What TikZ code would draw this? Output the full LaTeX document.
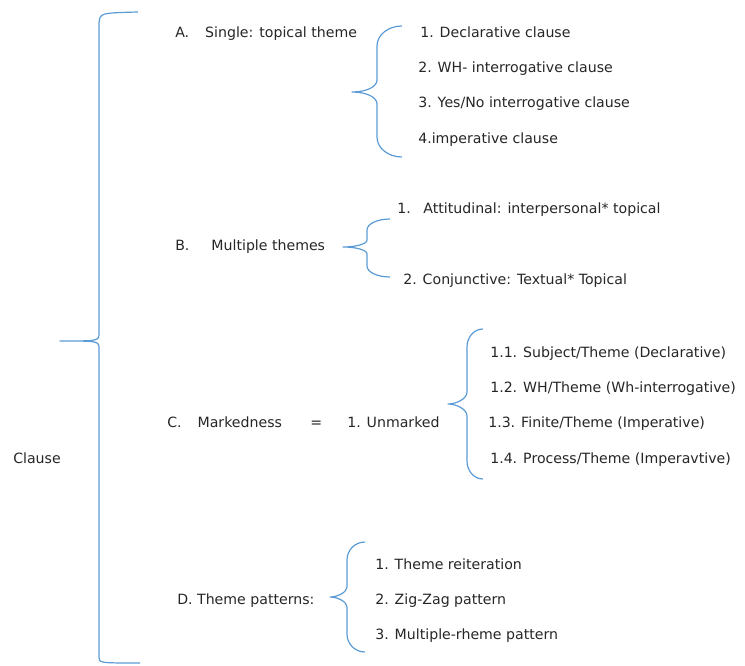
\documentclass[tikz,border=0pt]{standalone}
\usepackage{fontspec}
\setmainfont{DejaVu Sans}
\definecolor{bracecol}{RGB}{91,155,213}
\definecolor{txtcol}{RGB}{38,38,38}
\begin{document}
\begin{tikzpicture}[x=0.75pt, y=-0.75pt,
  lbl/.style={anchor=base west, inner sep=0pt, text=txtcol, font=\fontsize{10.6}{12.7}\selectfont},
  curly/.style={draw=bracecol, line width=0.9pt, line join=round}]
\useasboundingbox (0,0) rectangle (745,666);

% Texte
\node[lbl] (clause) at (13,463) {Clause};

\node[lbl] (A) at (175,38) {A.\hspace{12pt}Single: topical theme};
\node[lbl] (A1) at (420,38) {1. Declarative clause};
\node[lbl] (A2) at (418,73) {2. WH- interrogative clause};
\node[lbl] (A3) at (418,108) {3. Yes/No interrogative clause};
\node[lbl] (A4) at (418,144) {4.imperative clause};

\node[lbl] (B) at (175,251) {B.\hspace{16.5pt}Multiple themes};
\node[lbl] (B1) at (397,214) {1.\hspace{9.5pt}Attitudinal: interpersonal* topical};
\node[lbl] (B2) at (403,285) {2. Conjunctive: Textual* Topical};

\node[lbl] (C) at (167,427) {C.\hspace{12pt}Markedness};
\node[lbl] (eq) at (310,427) {=};
\node[lbl] (C1) at (347,427) {1. Unmarked};
\node[lbl] (C11) at (490,357) {1.1. Subject/Theme (Declarative)};
\node[lbl] (C12) at (490,392) {1.2. WH/Theme (Wh-interrogative)};
\node[lbl] (C13) at (488,427) {1.3. Finite/Theme (Imperative)};
\node[lbl] (C14) at (490,463) {1.4. Process/Theme (Imperavtive)};

\node[lbl] (D) at (177,604) {D. Theme patterns:};
\node[lbl] (D1) at (375,569) {1. Theme reiteration};
\node[lbl] (D2) at (375,604) {2. Zig-Zag pattern};
\node[lbl] (D3) at (375,639) {3. Multiple-rheme pattern};

% Klammern
\draw[curly] (138,12) .. controls (100,13) .. (99,23) -- (99,333)
  .. controls (99,341) .. (60,341) .. controls (99,341) .. (99,349)
  -- (99,657) .. controls (99,663) .. (140,663);
\draw[curly] (402,26) .. controls (388,26) and (377,35) .. (377,46) -- (377,80)
  .. controls (377,87) and (366,92) .. (352,92) .. controls (366,92) and (377,97) .. (377,104)
  -- (377,137) .. controls (377,148) and (388,157) .. (402,157);
\draw[curly] (390,219) .. controls (377,219) and (367,224) .. (367,230) -- (367,240)
  .. controls (367,244) and (356,247) .. (343,247) .. controls (356,247) and (367,250) .. (367,254)
  -- (367,266) .. controls (367,272) and (377,277) .. (390,277);
\draw[curly] (483,329) .. controls (474,329) and (467,337) .. (467,347) -- (467,392)
  .. controls (467,399) and (456,404) .. (448,404) .. controls (456,404) and (467,409) .. (467,416)
  -- (467,461) .. controls (467,471) and (474,479) .. (483,479);
\draw[curly] (365,542) .. controls (355,542) and (347,550) .. (347,560) -- (347,587)
  .. controls (347,592) and (338,597) .. (330,597) .. controls (338,597) and (347,602) .. (347,607)
  -- (347,634) .. controls (347,644) and (355,652) .. (365,652);

\end{tikzpicture}
\end{document}
